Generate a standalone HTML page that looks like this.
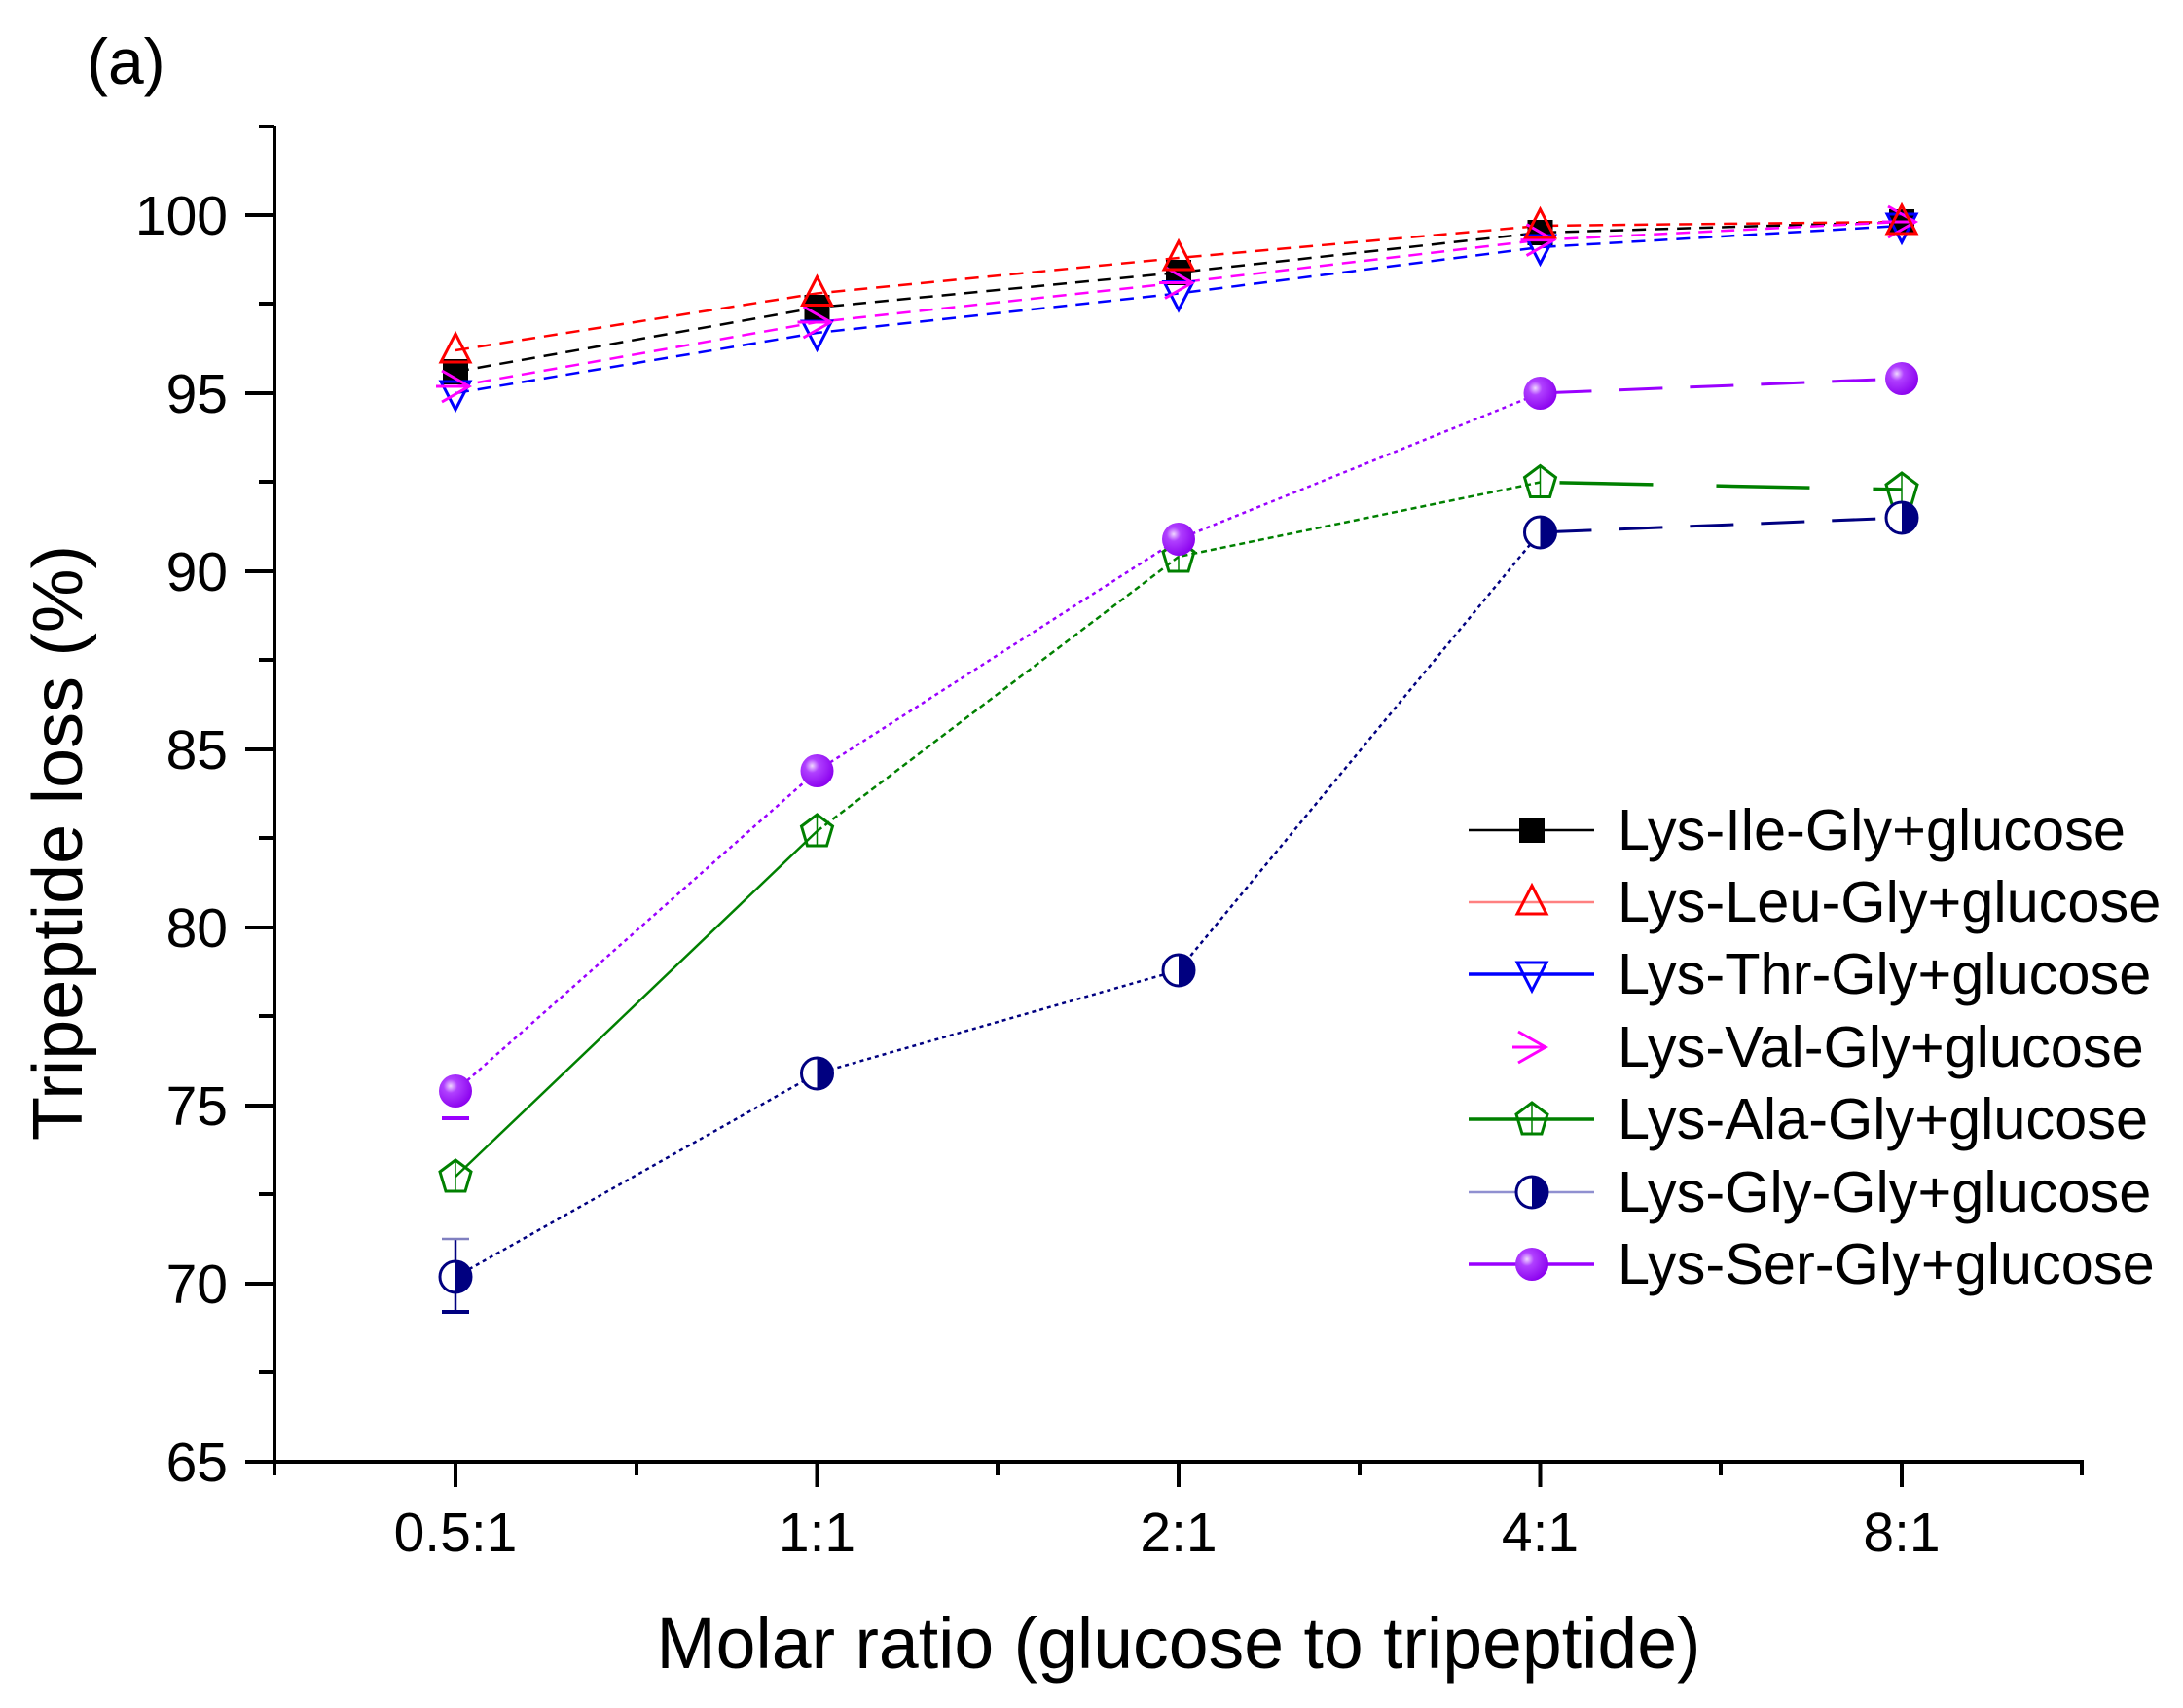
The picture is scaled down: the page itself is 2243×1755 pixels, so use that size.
<!DOCTYPE html>
<html><head><meta charset="utf-8"><style>html,body{margin:0;padding:0;background:#fff}svg{display:block}</style></head>
<body>
<svg width="2243" height="1755" viewBox="0 0 2243 1755" xmlns="http://www.w3.org/2000/svg" font-family="Liberation Sans, Arial, sans-serif">
<rect width="2243" height="1755" fill="#fff"/>
<text x="89" y="86" font-size="66">(a)</text>
<g stroke="#000" stroke-width="4" fill="none">
<line x1="282" y1="129" x2="282" y2="1504"/>
<line x1="280" y1="1502" x2="2141" y2="1502"/>
<line x1="252" y1="221" x2="282" y2="221"/><line x1="252" y1="404" x2="282" y2="404"/><line x1="252" y1="587" x2="282" y2="587"/><line x1="252" y1="770" x2="282" y2="770"/><line x1="252" y1="953" x2="282" y2="953"/><line x1="252" y1="1136" x2="282" y2="1136"/><line x1="252" y1="1319" x2="282" y2="1319"/><line x1="252" y1="1502" x2="282" y2="1502"/>
<line x1="266" y1="130" x2="282" y2="130"/><line x1="266" y1="312" x2="282" y2="312"/><line x1="266" y1="495" x2="282" y2="495"/><line x1="266" y1="678" x2="282" y2="678"/><line x1="266" y1="861" x2="282" y2="861"/><line x1="266" y1="1044" x2="282" y2="1044"/><line x1="266" y1="1227" x2="282" y2="1227"/><line x1="266" y1="1410" x2="282" y2="1410"/>
<line x1="468" y1="1502" x2="468" y2="1528"/><line x1="839.5" y1="1502" x2="839.5" y2="1528"/><line x1="1211" y1="1502" x2="1211" y2="1528"/><line x1="1582.5" y1="1502" x2="1582.5" y2="1528"/><line x1="1954" y1="1502" x2="1954" y2="1528"/>
<line x1="282" y1="1502" x2="282" y2="1516"/><line x1="654" y1="1502" x2="654" y2="1516"/><line x1="1025" y1="1502" x2="1025" y2="1516"/><line x1="1397" y1="1502" x2="1397" y2="1516"/><line x1="1768" y1="1502" x2="1768" y2="1516"/><line x1="2139" y1="1502" x2="2139" y2="1516"/>
</g>
<g font-size="57" text-anchor="end">
<text x="234" y="241">100</text><text x="234" y="424">95</text><text x="234" y="607">90</text><text x="234" y="790">85</text><text x="234" y="973">80</text><text x="234" y="1156">75</text><text x="234" y="1339">70</text><text x="234" y="1522">65</text>
</g>
<g font-size="57" text-anchor="middle">
<text x="468" y="1594">0.5:1</text><text x="839.5" y="1594">1:1</text><text x="1211" y="1594">2:1</text><text x="1582.5" y="1594">4:1</text><text x="1954" y="1594">8:1</text>
</g>
<text x="1211" y="1714" font-size="74" text-anchor="middle" textLength="1073" lengthAdjust="spacingAndGlyphs">Molar ratio (glucose to tripeptide)</text>
<text transform="translate(84,866) rotate(-90)" font-size="72" text-anchor="middle" textLength="612" lengthAdjust="spacingAndGlyphs">Tripeptide loss (%)</text>

<g fill="none" stroke-width="2.5" stroke-dasharray="14,9">
<polyline stroke="#000" points="468,382 839.5,316 1211,280 1582.5,239 1954,228"/>
<polyline stroke="#f00" points="468,360 839.5,301.5 1211,265 1582.5,232 1954,228"/>
<polyline stroke="#00f" points="468,404 839.5,342 1211,301.5 1582.5,254 1954,232"/>
<polyline stroke="#f0f" points="468,397 839.5,331 1211,290.5 1582.5,246.6 1954,228"/>
</g>
<g fill="none" stroke-width="2.5">
<polyline stroke="#008000" points="468,1209 839.5,854"/>
<polyline stroke="#008000" stroke-dasharray="6,4" points="839.5,854 1211,572 1582.5,495.5"/>
<polyline stroke="#008000" stroke-width="3.5" stroke-dasharray="0,20 96,45" points="1582.5,495.5 1954,503"/>
<polyline stroke="#000080" stroke-dasharray="4,4" points="468,1312 839.5,1103 1211,997 1582.5,547"/>
<polyline stroke="#000080" stroke-width="3" stroke-dasharray="0,8 45,20" points="1582.5,547 1954,532"/>
<polyline stroke="#9a00ff" stroke-dasharray="4,4" points="468,1121 839.5,792 1211,554 1582.5,404"/>
<polyline stroke="#9a00ff" stroke-width="3" stroke-dasharray="0,8 45,20" points="1582.5,404 1954,389"/>
<line stroke="#000080" x1="468" y1="1273" x2="468" y2="1348"/>
<line stroke="#000080" stroke-width="4" x1="454" y1="1348" x2="482" y2="1348"/>
<line stroke="#8080c0" x1="454" y1="1273" x2="482" y2="1273"/>
<line stroke="#9a00ff" stroke-width="4" x1="454" y1="1149" x2="482" y2="1149"/>
</g>
<defs>
<radialGradient id="sph" cx="0.35" cy="0.35" r="0.7"><stop offset="0" stop-color="#f0d8ff"/><stop offset="0.3" stop-color="#b040ff"/><stop offset="1" stop-color="#8a00ee"/></radialGradient>
<g id="sq"><rect x="-13" y="-13" width="26" height="26" fill="#000"/></g>
<g id="tu"><polygon points="0,-17 15,12 -15,12" fill="none" stroke="#f00" stroke-width="3"/></g>
<g id="td"><polygon points="0,17 15,-12 -15,-12" fill="none" stroke="#00f" stroke-width="3"/></g>
<g id="ar"><polyline points="-14,-16 14,0 -14,16" fill="none" stroke="#f0f" stroke-width="3"/><line x1="-20" y1="0" x2="14" y2="0" stroke="#f0f" stroke-width="3"/></g>
<g id="pe"><polygon points="0,-17 16,-5 10,15 -10,15 -16,-5" fill="none" stroke="#008000" stroke-width="3"/><line x1="0" y1="-17" x2="0" y2="15" stroke="#008000" stroke-width="1.5"/></g>
<g id="hc"><circle r="16" fill="#fff" stroke="#000080" stroke-width="3"/><path d="M0,-16 A16,16 0 0 1 0,16 Z" fill="#000080"/></g>
<g id="sp"><circle r="17" fill="url(#sph)"/></g>
</defs>
<g>
<use href="#sq" x="468" y="382"/><use href="#sq" x="839.5" y="316"/><use href="#sq" x="1211" y="280"/><use href="#sq" x="1582.5" y="239"/><use href="#sq" x="1954" y="228"/>
<use href="#td" x="468" y="404"/><use href="#td" x="839.5" y="342"/><use href="#td" x="1211" y="301.5"/><use href="#td" x="1582.5" y="254"/><use href="#td" x="1954" y="232"/>
<use href="#ar" x="468" y="397"/><use href="#ar" x="839.5" y="331"/><use href="#ar" x="1211" y="290.5"/><use href="#ar" x="1582.5" y="246.6"/><use href="#ar" x="1954" y="228"/>
<use href="#tu" x="468" y="360"/><use href="#tu" x="839.5" y="301.5"/><use href="#tu" x="1211" y="265"/><use href="#tu" x="1582.5" y="232"/><use href="#tu" x="1954" y="228"/>
<use href="#pe" x="468" y="1209"/><use href="#pe" x="839.5" y="854"/><use href="#pe" x="1211" y="572"/><use href="#pe" x="1582.5" y="495.5"/><use href="#pe" x="1954" y="503"/>
<use href="#hc" x="468" y="1312"/><use href="#hc" x="839.5" y="1103"/><use href="#hc" x="1211" y="997"/><use href="#hc" x="1582.5" y="547"/><use href="#hc" x="1954" y="532"/>
<use href="#sp" x="468" y="1121"/><use href="#sp" x="839.5" y="792"/><use href="#sp" x="1211" y="554"/><use href="#sp" x="1582.5" y="404"/><use href="#sp" x="1954" y="389"/>
</g>
<g stroke-width="2.5">
<line x1="1509" y1="853" x2="1638" y2="853" stroke="#000"/>
<line x1="1509" y1="927" x2="1638" y2="927" stroke="#ff8080"/>
<line x1="1509" y1="1001" x2="1638" y2="1001" stroke="#00f" stroke-width="3.5"/>
<line x1="1509" y1="1150" x2="1638" y2="1150" stroke="#008000" stroke-width="3.5"/>
<line x1="1509" y1="1225" x2="1638" y2="1225" stroke="#9090d0"/>
<line x1="1509" y1="1299" x2="1638" y2="1299" stroke="#9a00ff" stroke-width="3.5"/>
</g>
<use href="#sq" x="1574" y="853"/><use href="#tu" x="1574" y="927"/><use href="#td" x="1574" y="1001"/><use href="#ar" x="1574" y="1076"/><use href="#pe" x="1574" y="1150"/><use href="#hc" x="1574" y="1225"/><use href="#sp" x="1574" y="1299"/>
<g font-size="59.5">
<text x="1662" y="873">Lys-Ile-Gly+glucose</text>
<text x="1662" y="947">Lys-Leu-Gly+glucose</text>
<text x="1662" y="1021">Lys-Thr-Gly+glucose</text>
<text x="1662" y="1096">Lys-Val-Gly+glucose</text>
<text x="1662" y="1170">Lys-Ala-Gly+glucose</text>
<text x="1662" y="1245">Lys-Gly-Gly+glucose</text>
<text x="1662" y="1319">Lys-Ser-Gly+glucose</text>
</g>
</svg>
</body></html>
